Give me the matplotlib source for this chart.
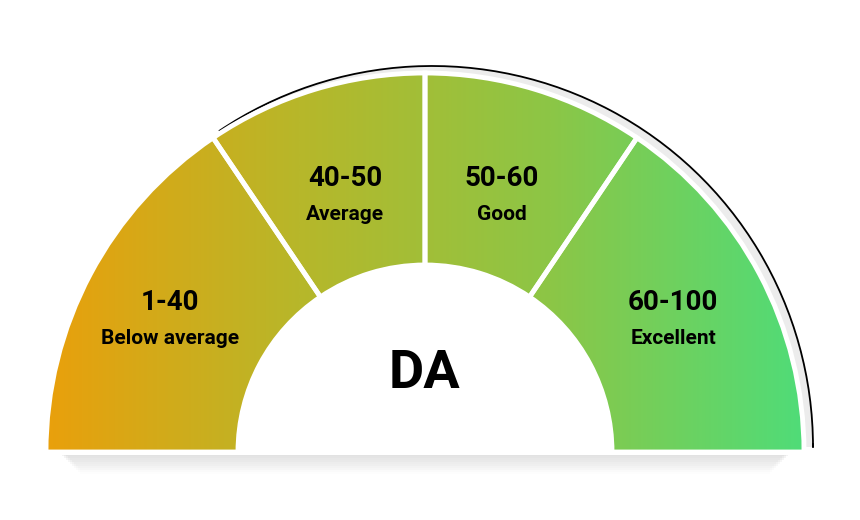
import numpy as np
import matplotlib.pyplot as plt
from matplotlib.patches import Wedge, Arc, Rectangle
from matplotlib.colors import LinearSegmentedColormap

ranges = ["1-40", "40-50", "50-60", "60-100"]
names = ["Below average", "Average", "Good", "Excellent"]
spans_deg = [56, 34, 34, 56]   # angular width of each segment, left to right
center_label = "DA"

W, H = 860, 520
fig = plt.figure(figsize=(8.6, 5.2), dpi=100)
ax = fig.add_axes([0, 0, 1, 1])
ax.set_xlim(0, W); ax.set_ylim(0, H); ax.axis('off')
ax.set_aspect('equal')

cx, cy = 425, 520 - 452
R, r = 378, 188

# shadow below
for i, a in enumerate(np.linspace(0.10, 0.01, 10)):
    ax.add_patch(Rectangle((cx - R + 15 + i*2, cy - 4 - i*2), 2*R - 30 - i*4, 6,
                           color='#888888', alpha=a, lw=0, zorder=0))

# outer offset arc with light background
ox, oy, orad = 432, 520 - 447, 381
ax.add_patch(Wedge((ox, oy), orad, 0, 124, color='#ececec', lw=0, zorder=0.5))
ax.add_patch(Arc((ox, oy), 2*orad, 2*orad, theta1=0, theta2=124, color='black', lw=1.3, zorder=1))
ax.plot([ox + orad, ox + orad], [oy, cy + 8], color='black', lw=1.3, zorder=1)

cmap = LinearSegmentedColormap.from_list('g', ['#e9a00c', '#b7b72a', '#8cc646', '#50dc78'])
grad = np.linspace(0, 1, 512)[None, :]

theta = 180
for k, sp in enumerate(spans_deg):
    t1, t2 = theta - sp, theta
    w = Wedge((cx, cy), R, t1, t2, width=R - r, facecolor='none', edgecolor='none')
    ax.add_patch(w)
    im = ax.imshow(grad, cmap=cmap, extent=(cx - R, cx + R, cy, cy + R), aspect='auto', zorder=2)
    im.set_clip_path(w)
    ax.add_patch(Wedge((cx, cy), R + 1, t1, t2, width=R - r + 2, facecolor='none',
                       edgecolor='white', lw=3.5, zorder=3))
    theta = t1

ax.add_patch(Wedge((cx, cy), r, 0, 180, color='white', zorder=4))
ax.plot([cx - R - 2, cx + R + 2], [cy - 1, cy - 1], color='white', lw=3, zorder=5)

font = 'Roboto'
pos = [(170, 302, 339), (345, 178, 214), (502, 178, 214), (673, 302, 339)]
for (x, y1, y2), a, b in zip(pos, ranges, names):
    ax.text(x, H - y1, a, ha='center', va='center', fontsize=20, fontweight='bold', family=font, zorder=6)
    ax.text(x, H - y2, b, ha='center', va='center', fontsize=15, fontweight='bold', family=font, zorder=6)
ax.text(cx, H - 374, center_label, ha='center', va='center', fontsize=39, fontweight='bold', family=font, zorder=6)

fig.savefig('out.png', dpi=100)
